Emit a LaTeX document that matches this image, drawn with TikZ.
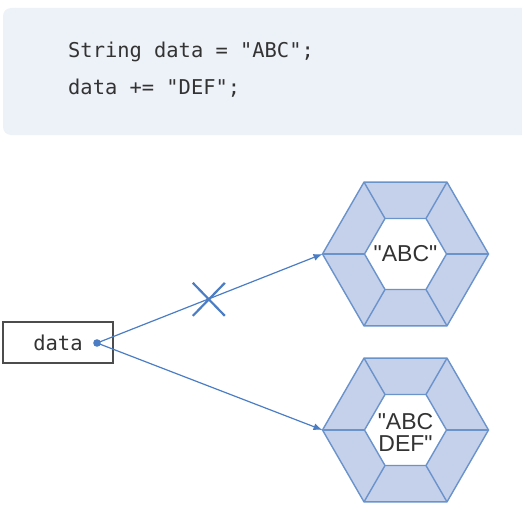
\documentclass[tikz,border=0pt]{standalone}
\usepackage{fontspec}
\setmainfont{Liberation Sans}[Ligatures=TeXOff]
\setmonofont{DejaVu Sans Mono}
\usetikzlibrary{arrows.meta,shapes.geometric}
\definecolor{codebg}{HTML}{EDF1F8}
\definecolor{hexfill}{HTML}{C5D0EA}
\definecolor{hexline}{HTML}{6A93CC}
\definecolor{arrowc}{HTML}{4A7DC4}
\definecolor{txt}{HTML}{333333}
\tikzset{
  codetext/.style={font=\fontsize{20.4}{24}\selectfont\ttfamily, text=txt, anchor=west, inner sep=0},
  varbox/.style={draw=black!70, line width=1.4pt, minimum width=110pt, minimum height=41pt, inner sep=0, font=\fontsize{20.5}{24}\selectfont\ttfamily, text=txt},
  hexouter/.style={regular polygon, regular polygon sides=6, minimum size=166pt, inner sep=0, outer sep=0, fill=hexfill, draw=hexline, line width=1.4pt},
  hexinner/.style={regular polygon, regular polygon sides=6, minimum size=82pt, inner sep=0, outer sep=0, fill=white, draw=hexline, line width=1.4pt},
  hextext/.style={font=\fontsize{23}{24}\selectfont, text=txt, align=center, inner sep=0},
  spoke/.style={draw=hexline, line width=1.4pt},
  ptr/.style={draw=arrowc, line width=1.2pt, -{Latex[length=9pt,width=7pt]}},
  cross/.style={draw=arrowc, line width=2.2pt}
}
\begin{document}
\begin{tikzpicture}[x=1pt,y=-1pt]
\useasboundingbox (0,0) rectangle (522,519);
\fill[codebg, rounded corners=8pt] (3,8) rectangle (540,135);
\node[codetext] (l1) at (68,52) {String data = "ABC";};
\node[codetext] (l2) at (68,88) {data += "DEF";};

\node[varbox] (data) at (58,342.5) {data\hspace{10pt}};
\fill[arrowc] (97,343) circle (3.8pt);
\coordinate (dot) at (97,343);

\node[hexouter] (h1) at (405.5,254) {};
\node[hexinner] (h1i) at (405.5,254) {};
\foreach \i in {1,...,6} \draw[spoke] (h1.corner \i) -- (h1i.corner \i);
\node[hextext] (t1) at (405.5,254) {"ABC"};

\node[hexouter] (h2) at (405.5,430) {};
\node[hexinner] (h2i) at (405.5,430) {};
\foreach \i in {1,...,6} \draw[spoke] (h2.corner \i) -- (h2i.corner \i);
\node[hextext] (t2) at (405.5,432) {"ABC\\[-2pt]DEF"};

\draw[ptr] (dot) -- (h1.west) coordinate[pos=0.496] (mid);
\draw[ptr] (dot) -- (h2.west);
\draw[cross] ([shift={(-16,-16)}]mid) -- ([shift={(16,17)}]mid);
\draw[cross] ([shift={(16,-16)}]mid) -- ([shift={(-16,17)}]mid);
\end{tikzpicture}
\end{document}
